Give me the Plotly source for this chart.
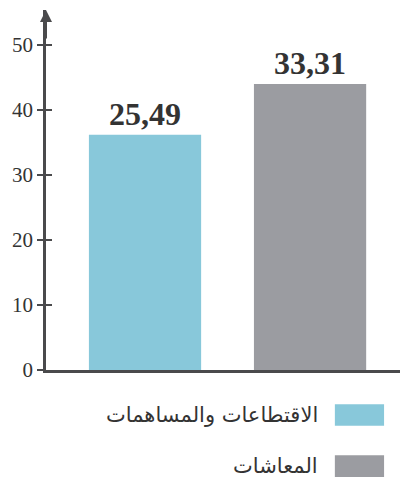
import plotly.graph_objects as go

# data
categories = ["الاقتطاعات والمساهمات", "المعاشات"]
bar_heights = [36.2, 44.0]
bar_labels = ["25,49", "33,31"]
bar_colors = ["#88c8da", "#9b9ca1"]
y_ticks = [0, 10, 20, 30, 40, 50]

fig = go.Figure()
fig.add_trace(go.Bar(
    x=categories, y=bar_heights, text=bar_labels,
    textposition="outside", cliponaxis=False,
    marker=dict(color=bar_colors, line=dict(width=0)),
    width=0.68,
    textfont=dict(family="Liberation Serif", size=32, color="#333333", weight="bold"),
    showlegend=False,
))
# invisible trace so the second y axis (inner tick halves) exists
fig.add_trace(go.Scatter(x=[categories[0]], y=[0], yaxis="y2",
                         mode="markers", marker=dict(opacity=0), showlegend=False,
                         hoverinfo="skip"))

axis_col = "#4a4a4c"
fig.update_layout(
    width=403, height=484,
    margin=dict(l=46, r=3, t=10, b=114),
    paper_bgcolor="white", plot_bgcolor="white",
    font=dict(family="Liberation Serif", color="#333333"),
    xaxis=dict(range=[-0.6, 1.545], showticklabels=False, ticks="",
               showgrid=False, zeroline=False,
               showline=True, linecolor=axis_col, linewidth=2.5),
    yaxis=dict(range=[0, 55.4], tickvals=y_ticks, ticks="outside", ticklen=6,
               tickwidth=2, tickcolor=axis_col, showgrid=False, zeroline=False,
               showline=True, linecolor=axis_col, linewidth=2.5,
               tickfont=dict(family="Liberation Serif", size=21, color="#333333")),
    yaxis2=dict(range=[0, 55.4], overlaying="y", side="left", tickvals=y_ticks[1:],
                ticks="inside", ticklen=6, tickwidth=2, tickcolor=axis_col,
                showticklabels=False, showgrid=False, zeroline=False, showline=False),
    bargap=0.3,
)

# arrow at the top of the y axis
fig.add_annotation(x=0, y=1.0, xref="paper", yref="paper", ax=0, ay=30,
                   showarrow=True, arrowhead=2, arrowsize=1.2, arrowwidth=2,
                   arrowcolor=axis_col, text="")

# legend drawn by hand: swatch on the right, text to its left (right-to-left)
legend_y = [-0.125, -0.267]
for name, col, ly in zip(categories, bar_colors, legend_y):
    fig.add_shape(type="rect", xref="paper", yref="paper",
                  x0=0.816, x1=0.955, y0=ly - 0.03, y1=ly + 0.03,
                  fillcolor=col, line=dict(width=0))
    fig.add_annotation(x=0.774, y=ly, xref="paper", yref="paper",
                       text=name, showarrow=False, xanchor="right", yanchor="middle",
                       font=dict(family="DejaVu Sans", size=21, color="#333333"))

fig.write_html("out.html", config={"displayModeBar": False},
               post_script="document.body.style.margin='0';")
